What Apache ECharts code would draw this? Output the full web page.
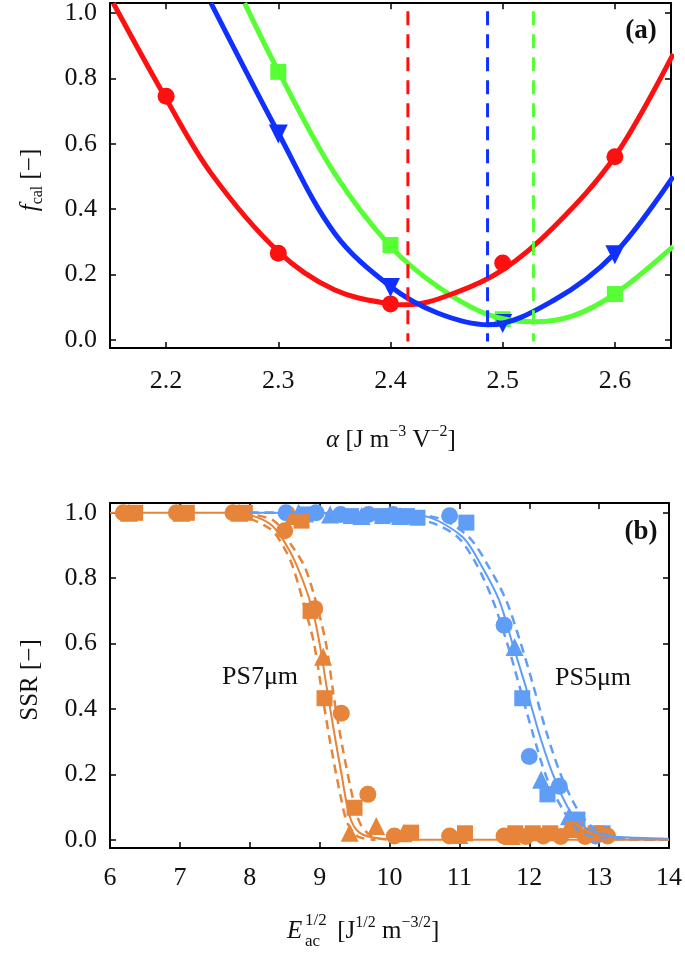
<!DOCTYPE html>
<html><head><meta charset="utf-8">
<script src="https://cdn.jsdelivr.net/npm/echarts@6/dist/echarts.min.js"></script>
<style>html,body{margin:0;padding:0;background:#fff}#c{width:685px;height:961px}</style>
</head><body><div id="c"></div>
<script>
// ---------- panel (a) ----------
const alphaTicks = [2.2, 2.3, 2.4, 2.5, 2.6];
const fTicks = [0, 0.2, 0.4, 0.6, 0.8, 1.0];
const redMarkX = [2.2, 2.3, 2.4, 2.5, 2.6];
const redMarkY = [0.745, 0.265, 0.11, 0.235, 0.56];
const blueMarkX = [2.3, 2.4, 2.5, 2.6];
const blueMarkY = [0.63, 0.16, 0.05, 0.26];
const greenMarkX = [2.3, 2.4, 2.5, 2.6];
const greenMarkY = [0.82, 0.29, 0.063, 0.14];
const redCurveX = [2.153, 2.198, 2.24, 2.30, 2.35, 2.40, 2.415, 2.457, 2.50, 2.546, 2.60, 2.652];
const redCurveY = [1.03, 0.75, 0.51, 0.27, 0.153, 0.11, 0.107, 0.143, 0.214, 0.347, 0.561, 0.875];
const blueCurveX = [2.24, 2.30, 2.35, 2.40, 2.442, 2.487, 2.546, 2.60, 2.652];
const blueCurveY = [1.03, 0.633, 0.327, 0.163, 0.082, 0.046, 0.122, 0.265, 0.50];
const greenCurveX = [2.27, 2.30, 2.35, 2.40, 2.442, 2.487, 2.528, 2.563, 2.601, 2.652];
const greenCurveY = [1.03, 0.822, 0.51, 0.286, 0.163, 0.077, 0.055, 0.074, 0.143, 0.286];
const optimumAlpha = [2.4155, 2.4865, 2.5274]; // red, blue, green

// ---------- panel (b) ----------
const eTicks = [6, 7, 8, 9, 10, 11, 12, 13, 14];
const ps7Circle = [[6.19,1.0],[6.95,1.0],[7.76,1.0],[8.5,0.945],[8.93,0.707],[9.31,0.387],[9.69,0.139],[10.07,0.012],[10.86,0.012],[11.64,0.012],[11.95,0.01],[12.2,0.012],[12.45,0.01],[12.8,0.01],[13.12,0.012]];
const ps7Square = [[6.36,1.0],[7.1,1.0],[7.93,1.0],[8.74,0.976],[8.87,0.70],[9.07,0.433],[9.5,0.098],[10.31,0.022],[11.08,0.02],[11.8,0.02],[12.05,0.02],[12.3,0.02],[12.65,0.03],[12.95,0.02]];
const ps7Triangle = [[6.27,1.0],[7.02,1.0],[7.85,1.0],[8.62,0.99],[9.05,0.56],[9.43,0.022],[9.81,0.042],[10.2,0.02],[11.0,0.015],[11.75,0.012],[12.55,0.035]];
const ps7Fit = [[6,1.0],[7.8,1.0],[8.29,0.966],[8.57,0.884],[8.76,0.793],[8.9,0.702],[9.0,0.6],[9.1,0.468],[9.21,0.326],[9.31,0.205],[9.43,0.072],[9.57,0.022],[9.86,0.004],[10.5,0],[14,0]];
const ps7Low = [[7.8,1.0],[8.3,0.95],[8.5,0.89],[8.62,0.833],[8.8,0.70],[8.92,0.6],[9.05,0.428],[9.15,0.3],[9.31,0.123],[9.4,0.05],[9.55,0.01],[9.8,0.0]];
const ps7High = [[7.9,1.0],[8.35,0.975],[8.6,0.9],[8.79,0.833],[8.97,0.71],[9.1,0.59],[9.21,0.428],[9.33,0.28],[9.48,0.123],[9.58,0.05],[9.75,0.01],[10.0,0.0]];
const ps5Circle = [[8.52,1.0],[8.95,1.0],[9.3,0.995],[9.7,0.995],[10.05,0.995],[10.86,0.991],[11.64,0.656],[12.0,0.255],[12.43,0.164],[12.95,0.012]];
const ps5Square = [[8.8,0.995],[9.45,0.99],[9.9,0.99],[10.25,0.99],[10.4,0.985],[11.1,0.97],[11.9,0.433],[12.26,0.139],[12.69,0.062],[13.05,0.02]];
const ps5Triangle = [[8.7,1.0],[9.15,0.995],[9.6,0.99],[10.15,0.99],[11.79,0.59],[12.17,0.184],[12.57,0.072]];
const ps5Fit = [[8.0,1.0],[10.0,0.998],[10.57,0.986],[11.05,0.925],[11.33,0.833],[11.57,0.732],[11.76,0.6],[11.95,0.468],[12.14,0.326],[12.33,0.205],[12.57,0.093],[12.81,0.037],[13.14,0.012],[13.9,0.004],[14,0.003]];
const ps5Low = [[8.0,1.0],[10.0,0.995],[10.6,0.97],[10.98,0.925],[11.25,0.84],[11.48,0.732],[11.7,0.59],[11.86,0.47],[12.05,0.326],[12.25,0.19],[12.48,0.093],[12.7,0.03],[13.0,0.005],[14,0]];
const ps5High = [[8.0,1.0],[10.2,0.998],[10.75,0.98],[11.14,0.925],[11.42,0.835],[11.67,0.732],[11.88,0.6],[12.06,0.47],[12.25,0.326],[12.45,0.2],[12.69,0.093],[12.95,0.03],[13.25,0.008],[14,0]];

const zip = (xs, ys) => xs.map((x, i) => [x, ys[i]]);
const serif = "'Liberation Serif', 'Times New Roman', serif";
const RED = '#ff1010', BLUE = '#0f30ff', GREEN = '#55ff33';
const ORANGE = '#e6843a', LBLUE = '#5f9df6';
const INK = '#111';

function xAx(grid, min, max, pos, ticks, show, margin, fmt) {
  return {
    type: 'value', gridIndex: grid, min: min, max: max, position: pos,
    axisLine: { show: true, onZero: false, lineStyle: { color: '#000', width: 2 } },
    axisTick: { show: true, inside: true, length: 6, customValues: ticks, lineStyle: { color: '#000', width: 1.5 } },
    axisLabel: { show: show, customValues: ticks, margin: margin, fontFamily: serif, fontSize: 26, color: INK, formatter: fmt },
    splitLine: { show: false }
  };
}
function yAx(grid, pos, show) {
  return {
    type: 'value', gridIndex: grid, min: -0.025, max: 1.03, position: pos,
    axisLine: { show: true, onZero: false, lineStyle: { color: '#000', width: 2 } },
    axisTick: { show: true, inside: true, length: 6, customValues: fTicks, lineStyle: { color: '#000', width: 1.5 } },
    axisLabel: { show: show, customValues: fTicks, margin: 13, fontFamily: serif, fontSize: 26, color: INK, formatter: v => v.toFixed(1) },
    splitLine: { show: false }
  };
}
function curve(xi, yi, data, color, width, dash, sm) {
  return { type: 'line', xAxisIndex: xi, yAxisIndex: yi, data: data, smooth: sm || 0.35,
    symbol: 'none', showSymbol: false, clip: true, silent: true,
    lineStyle: { color: color, width: width, type: dash || 'solid' } };
}
function marks(xi, yi, data, color, symbol, size, rot) {
  return { type: 'scatter', xAxisIndex: xi, yAxisIndex: yi, data: data, symbol: symbol, symbolSize: size,
    symbolRotate: rot || 0, silent: true, itemStyle: { color: color, opacity: 1 } };
}

const series = [
  curve(0, 0, zip(greenCurveX, greenCurveY), GREEN, 5),
  curve(0, 0, zip(redCurveX, redCurveY), RED, 5),
  curve(0, 0, zip(blueCurveX, blueCurveY), BLUE, 5),
];
[RED, BLUE, GREEN].forEach((c, i) => {
  series.push({ type: 'line', xAxisIndex: 0, yAxisIndex: 0, symbol: 'none', silent: true,
    data: [[optimumAlpha[i], 1.005], [optimumAlpha[i], -0.005]],
    lineStyle: { color: c, width: 3, type: [14, 9] } });
});
series.push(marks(0, 0, zip(greenMarkX, greenMarkY), GREEN, 'rect', 16));
series.push(marks(0, 0, zip(redMarkX, redMarkY), RED, 'circle', 17));
series.push(marks(0, 0, zip(blueMarkX, blueMarkY), BLUE, 'triangle', 19, 180));

// panel b
series.push(curve(2, 2, ps5Low, LBLUE, 2.5, [9, 6], 0.3));
series.push(curve(2, 2, ps5High, LBLUE, 2.5, [9, 6], 0.3));
series.push(curve(2, 2, ps5Fit, LBLUE, 2, null, 0.3));
series.push(marks(2, 2, ps5Triangle, LBLUE, 'triangle', 18));
series.push(marks(2, 2, ps5Square, LBLUE, 'rect', 16));
series.push(marks(2, 2, ps5Circle, LBLUE, 'circle', 17));
series.push(curve(2, 2, ps7Low, ORANGE, 2.5, [9, 6], 0.3));
series.push(curve(2, 2, ps7High, ORANGE, 2.5, [9, 6], 0.3));
series.push(curve(2, 2, ps7Fit, ORANGE, 2, null, 0.3));
series.push(marks(2, 2, ps7Triangle, ORANGE, 'triangle', 18));
series.push(marks(2, 2, ps7Square, ORANGE, 'rect', 16));
series.push(marks(2, 2, ps7Circle, ORANGE, 'circle', 17));

const T = 25, S = 17;
const richBase = {
  n: { fontFamily: serif, fontSize: T, lineHeight: 32, verticalAlign: 'middle', fill: INK },
  i: { fontFamily: serif, fontSize: T, fontStyle: 'italic', lineHeight: 32, verticalAlign: 'middle', fill: INK },
  b: { fontFamily: serif, fontSize: 16, lineHeight: 16, verticalAlign: 'bottom', fill: INK },
  p: { fontFamily: serif, fontSize: 16, lineHeight: 16, verticalAlign: 'top', fill: INK },
  g: { fontFamily: serif, fontSize: T, lineHeight: 32, width: 35, verticalAlign: 'middle', fill: INK }
};

const graphic = [
  { type: 'text', x: 30, y: 180, rotation: Math.PI / 2, silent: true,
    style: { text: '{i|f}{b|cal}{n| [−]}', rich: richBase, align: 'center', verticalAlign: 'middle' } },
  { type: 'text', x: 391, y: 440, silent: true,
    style: { text: '{i|α}{n| [J m}{p|−3}{n| V}{p|−2}{n|]}', rich: richBase, align: 'center', verticalAlign: 'middle' } },
  { type: 'text', x: 30, y: 680, rotation: Math.PI / 2, silent: true,
    style: { text: '{n|SSR [−]}', rich: richBase, align: 'center', verticalAlign: 'middle' } },
  { type: 'text', x: 287, y: 931, silent: true,
    style: { text: '{i|E}{g| }{n|[J}{p|1/2}{n| m}{p|−3/2}{n|]}', rich: richBase, align: 'left', verticalAlign: 'middle' } },
  { type: 'text', x: 305, y: 921, silent: true,
    style: { text: '1/2', font: S + "px 'Liberation Serif', serif", fill: INK, align: 'left', verticalAlign: 'middle' } },
  { type: 'text', x: 305, y: 942, silent: true,
    style: { text: 'ac', font: S + "px 'Liberation Serif', serif", fill: INK, align: 'left', verticalAlign: 'middle' } },
  { type: 'text', x: 641, y: 31, silent: true,
    style: { text: '(a)', font: "bold 27px 'Liberation Serif', serif", fill: INK, align: 'center', verticalAlign: 'middle' } },
  { type: 'text', x: 641, y: 532, silent: true,
    style: { text: '(b)', font: "bold 27px 'Liberation Serif', serif", fill: INK, align: 'center', verticalAlign: 'middle' } },
  { type: 'text', x: 260, y: 677, silent: true,
    style: { text: 'PS7μm', font: "26px 'Liberation Serif', serif", fill: INK, align: 'center', verticalAlign: 'middle' } },
  { type: 'text', x: 593, y: 678, silent: true,
    style: { text: 'PS5μm', font: "26px 'Liberation Serif', serif", fill: INK, align: 'center', verticalAlign: 'middle' } }
];

const chart = echarts.init(document.getElementById('c'), null, { renderer: 'canvas' });
chart.setOption({
  animation: false,
  backgroundColor: '#fff',
  grid: [
    { left: 110, right: 14, top: 3, height: 345 },
    { left: 110, right: 14, top: 503, height: 345 }
  ],
  xAxis: [
    xAx(0, 2.15, 2.65, 'bottom', alphaTicks, true, 20, v => v.toFixed(1)),
    xAx(0, 2.15, 2.65, 'top', alphaTicks, false, 8),
    xAx(1, 6, 14, 'bottom', eTicks, true, 17, v => String(Math.round(v))),
    xAx(1, 6, 14, 'top', eTicks, false, 8)
  ],
  yAxis: [
    yAx(0, 'left', true),
    yAx(0, 'right', false),
    yAx(1, 'left', true),
    yAx(1, 'right', false)
  ],
  series: series,
  graphic: graphic
});
</script>
</body></html>
